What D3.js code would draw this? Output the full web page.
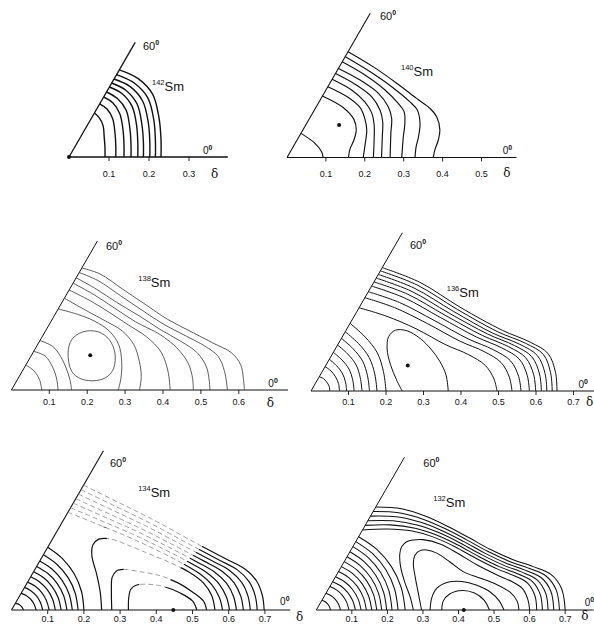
<!DOCTYPE html>
<html>
<head>
<meta charset="utf-8">
<script src="https://cdn.jsdelivr.net/npm/d3@7"></script>
<style>
  body { margin: 0; background: #fff; }
  svg { display: block; }
  text { font-family: 'Liberation Sans', Arial, sans-serif; fill: #111; }
  .delta { font-family: 'DejaVu Serif', 'Liberation Serif', serif; }
</style>
</head>
<body>
<svg id="chart" width="594" height="625"></svg>
<script>
// every contour point is (delta cos gamma, delta sin gamma)
var sm142Contours = [
  [[0.0635, 0.110], [0.075, 0.099], [0.085, 0.079], [0.088, 0.050], [0.090, 0.022], [0.090, 0]],
  [[0.0767, 0.133], [0.095, 0.120], [0.109, 0.096], [0.115, 0.060], [0.117, 0.027], [0.117, 0]],
  [[0.0866, 0.150], [0.110, 0.135], [0.127, 0.108], [0.135, 0.068], [0.1375, 0.030], [0.1375, 0]],
  [[0.0938, 0.1625], [0.121, 0.146], [0.143, 0.117], [0.152, 0.073], [0.155, 0.033], [0.155, 0]],
  [[0.101, 0.175], [0.133, 0.158], [0.158, 0.126], [0.169, 0.079], [0.172, 0.035], [0.172, 0]],
  [[0.1067, 0.185], [0.142, 0.167], [0.170, 0.133], [0.182, 0.083], [0.186, 0.037], [0.186, 0]],
  [[0.1125, 0.195], [0.153, 0.176], [0.184, 0.140], [0.198, 0.088], [0.202, 0.039], [0.202, 0]],
  [[0.1189, 0.206], [0.163, 0.185], [0.197, 0.148], [0.212, 0.093], [0.216, 0.041], [0.216, 0]],
  [[0.1258, 0.218], [0.173, 0.196], [0.209, 0.157], [0.225, 0.098], [0.230, 0.044], [0.230, 0]]
];
var sm142Minimum = [0, 0];
var sm142Ticks = [0.1, 0.2, 0.3];

var sm140Contours = [
  [[0.036, 0.062], [0.072, 0.0365], [0.089, 0.015], [0.093, 0]],
  [[0.091, 0.158], [0.145, 0.128], [0.172, 0.098], [0.178, 0.071], [0.172, 0.045], [0.162, 0.022], [0.158, 0]],
  [[0.105, 0.182], [0.155, 0.156], [0.188, 0.128], [0.200, 0.100], [0.205, 0.070], [0.201, 0.035], [0.196, 0]],
  [[0.116, 0.201], [0.166, 0.1735], [0.200, 0.143], [0.218, 0.114], [0.224, 0.0835], [0.224, 0.045], [0.222, 0]],
  [[0.125, 0.216], [0.179, 0.186], [0.218, 0.156], [0.239, 0.122], [0.246, 0.092], [0.245, 0.053], [0.243, 0]],
  [[0.132, 0.229], [0.188, 0.199], [0.235, 0.165], [0.260, 0.131], [0.269, 0.101], [0.267, 0.062], [0.265, 0]],
  [[0.142, 0.246], [0.2005, 0.212], [0.252, 0.1735], [0.286, 0.139], [0.301, 0.118], [0.303, 0.088], [0.299, 0.053], [0.295, 0]],
  [[0.150, 0.259], [0.213, 0.221], [0.269, 0.182], [0.316, 0.143], [0.335, 0.122], [0.342, 0.088], [0.338, 0.053], [0.332, 0.028], [0.329, 0]],
  [[0.157, 0.272], [0.222, 0.233], [0.282, 0.191], [0.333, 0.152], [0.368, 0.126], [0.385, 0.104], [0.393, 0.071], [0.389, 0.045], [0.380, 0.019], [0.376, 0]]
];
var sm140Minimum = [0.134, 0.0835];
var sm140Ticks = [0.1, 0.2, 0.3, 0.4, 0.5];

var sm138Contours = [
  [[0.038, 0.066], [0.060, 0.050], [0.075, 0.025], [0.080, 0]],
  [[0.059, 0.102], [0.090, 0.0888], [0.110, 0.0577], [0.120, 0.0266], [0.123, 0]],
  [[0.0753, 0.1305], [0.109, 0.115], [0.1297, 0.0888], [0.1446, 0.0577], [0.1545, 0.0266], [0.159, 0]],
  [[0.1235, 0.214], [0.174, 0.1998], [0.2188, 0.182], [0.2584, 0.1554], [0.283, 0.12], [0.291, 0.0755], [0.289, 0.0311], [0.282, 0]],
  [[0.140, 0.242], [0.199, 0.2087], [0.2485, 0.182], [0.293, 0.1554], [0.3228, 0.12], [0.3376, 0.0755], [0.3426, 0.0355], [0.338, 0]],
  [[0.152, 0.264], [0.209, 0.235], [0.258, 0.205], [0.308, 0.172], [0.357, 0.14], [0.395, 0.1], [0.413, 0.05], [0.419, 0]],
  [[0.163, 0.282], [0.2188, 0.2509], [0.2733, 0.2154], [0.3277, 0.1799], [0.392, 0.1465], [0.4366, 0.111], [0.4663, 0.071], [0.478, 0.0311], [0.48, 0]],
  [[0.171, 0.296], [0.2238, 0.2664], [0.278, 0.231], [0.3376, 0.1954], [0.392, 0.16], [0.4465, 0.1288], [0.491, 0.0977], [0.5158, 0.0577], [0.524, 0]],
  [[0.179, 0.310], [0.2287, 0.2886], [0.288, 0.2487], [0.3475, 0.2087], [0.402, 0.1732], [0.4614, 0.1421], [0.511, 0.1155], [0.5455, 0.0888], [0.5624, 0.0488], [0.57, 0]],
  [[0.186, 0.322], [0.2337, 0.3063], [0.293, 0.2664], [0.3525, 0.2265], [0.412, 0.1865], [0.4713, 0.1554], [0.531, 0.1243], [0.5812, 0.0977], [0.605, 0.0666], [0.612, 0.0311], [0.615, 0]]
];
var sm138Loops = [
  [[0.1495, 0.0977], [0.1594, 0.1332], [0.189, 0.1536], [0.2287, 0.1536], [0.258, 0.1332], [0.273, 0.0977],
   [0.270, 0.0577], [0.2535, 0.0355], [0.2238, 0.0249], [0.184, 0.0293], [0.1594, 0.0488]]
];
var sm138Minimum = [0.208, 0.092];
var sm138Ticks = [0.1, 0.2, 0.3, 0.4, 0.5, 0.6];

var sm136Contours = [
  [[0.022, 0.0381], [0.0332, 0.0332], [0.0416, 0.024], [0.0483, 0.013], [0.05, 0]],
  [[0.0375, 0.065], [0.0534, 0.0534], [0.0654, 0.0378], [0.0734, 0.0197], [0.076, 0]],
  [[0.0488, 0.0845], [0.0679, 0.0679], [0.0831, 0.048], [0.0918, 0.0246], [0.095, 0]],
  [[0.0595, 0.103], [0.0827, 0.0827], [0.1013, 0.0585], [0.1111, 0.0298], [0.115, 0]],
  [[0.0709, 0.1227], [0.0983, 0.0983], [0.1204, 0.0695], [0.1314, 0.0352], [0.136, 0]],
  [[0.0811, 0.1405], [0.1124, 0.1124], [0.1377, 0.0795], [0.1507, 0.0404], [0.156, 0]],
  [[0.0912, 0.158], [0.1266, 0.1266], [0.155, 0.0895], [0.17, 0.0456], [0.176, 0]],
  [[0.1042, 0.1805], [0.1442, 0.1442], [0.1767, 0.102], [0.1932, 0.0518], [0.20, 0]],
  [[0.243, 0], [0.228, 0.03], [0.212, 0.07], [0.203, 0.112], [0.207, 0.145], [0.225, 0.162], [0.2552, 0.1608],
   [0.2907, 0.1405], [0.3219, 0.1093], [0.344, 0.0781], [0.36, 0.0427], [0.366, 0]],
  [[0.128, 0.222], [0.20, 0.200], [0.28, 0.166], [0.36, 0.123], [0.42, 0.097], [0.465, 0.068], [0.488, 0.032], [0.496, 0]],
  [[0.1435, 0.2488], [0.2225, 0.2225], [0.31, 0.180], [0.3975, 0.1328], [0.4613, 0.1053], [0.5068, 0.076], [0.529, 0.0365], [0.536, 0]],
  [[0.1528, 0.2648], [0.236, 0.236], [0.328, 0.1884], [0.42, 0.1386], [0.486, 0.1102], [0.5318, 0.0808], [0.5536, 0.0392], [0.56, 0]],
  [[0.1615, 0.2798], [0.2486, 0.2486], [0.3448, 0.1962], [0.441, 0.1441], [0.5091, 0.1148], [0.5552, 0.0853], [0.5766, 0.0417], [0.5824, 0]],
  [[0.168, 0.291], [0.258, 0.258], [0.3574, 0.2021], [0.4568, 0.1482], [0.5264, 0.1183], [0.5727, 0.0886], [0.5938, 0.0436], [0.5992, 0]],
  [[0.1739, 0.3012], [0.2666, 0.2666], [0.3688, 0.2074], [0.471, 0.1519], [0.5421, 0.1214], [0.5886, 0.0917], [0.6094, 0.0453], [0.6144, 0]],
  [[0.1795, 0.3108], [0.2747, 0.2747], [0.3796, 0.2125], [0.4845, 0.1544], [0.557, 0.1244], [0.6036, 0.0946], [0.6241, 0.0469], [0.6288, 0]],
  [[0.185, 0.3204], [0.2828, 0.2828], [0.3904, 0.2175], [0.498, 0.1579], [0.5718, 0.1274], [0.6196, 0.0974], [0.6389, 0.0486], [0.6432, 0]],
  [[0.190, 0.329], [0.29, 0.290], [0.40, 0.222], [0.51, 0.162], [0.585, 0.130], [0.632, 0.100], [0.652, 0.05], [0.656, 0]]
];
var sm136Minimum = [0.258, 0.068];
var sm136Ticks = [0.1, 0.2, 0.3, 0.4, 0.5, 0.6, 0.7];

var sm134Contours = [
  [[0.0105, 0.0182], [0.017, 0.017], [0.0234, 0.0135], [0.029, 0.0078], [0.033, 0]],
  [[0.0265, 0.0459], [0.0402, 0.0402], [0.0524, 0.0303], [0.0621, 0.0166], [0.068, 0]],
  [[0.036, 0.0624], [0.0534, 0.0534], [0.0684, 0.0395], [0.0797, 0.0214], [0.086, 0]],
  [[0.0445, 0.0771], [0.0656, 0.0656], [0.0836, 0.0483], [0.0966, 0.0259], [0.104, 0]],
  [[0.053, 0.0918], [0.0776, 0.0776], [0.0983, 0.0568], [0.1133, 0.0304], [0.121, 0]],
  [[0.061, 0.1057], [0.0889, 0.0889], [0.1121, 0.0648], [0.1288, 0.0345], [0.137, 0]],
  [[0.0695, 0.1204], [0.1007, 0.1007], [0.1264, 0.073], [0.1444, 0.0387], [0.153, 0]],
  [[0.078, 0.1351], [0.1124, 0.1124], [0.1403, 0.081], [0.1594, 0.0427], [0.168, 0]],
  [[0.088, 0.1524], [0.1258, 0.1258], [0.1559, 0.09], [0.1758, 0.0471], [0.184, 0]],
  [[0.1, 0.1732], [0.1414, 0.1414], [0.1732, 0.1], [0.1932, 0.0518], [0.2, 0]],
  [[0.249, 0], [0.245, 0.05], [0.235, 0.1], [0.222, 0.15], [0.225, 0.18], [0.24, 0.195], [0.27, 0.197], [0.32, 0.18],
   [0.38, 0.155], [0.44, 0.13], [0.49, 0.105], [0.53, 0.075], [0.553, 0.04], [0.562, 0]],
  [[0.277, 0], [0.276, 0.05], [0.278, 0.09], [0.29, 0.108], [0.31, 0.112], [0.36, 0.105], [0.41, 0.095], [0.46, 0.075],
   [0.50, 0.05], [0.53, 0.025], [0.539, 0]],
  [[0.323, 0], [0.324, 0.035], [0.33, 0.058], [0.346, 0.069], [0.38, 0.071], [0.42, 0.065], [0.466, 0.047], [0.50, 0.025], [0.512, 0]],
  [[0.156, 0.27], [0.24, 0.236], [0.32, 0.203], [0.40, 0.166], [0.47, 0.13], [0.52, 0.1], [0.553, 0.07], [0.574, 0.035], [0.583, 0]],
  [[0.1632, 0.2825], [0.25, 0.2458], [0.3333, 0.21], [0.4167, 0.17], [0.4907, 0.1317], [0.5408, 0.1022], [0.5737, 0.0717], [0.5938, 0.0358], [0.6022, 0]],
  [[0.1703, 0.295], [0.26, 0.2557], [0.3467, 0.217], [0.4333, 0.174], [0.5113, 0.1333], [0.5617, 0.1043], [0.5943, 0.0733], [0.6137, 0.0367], [0.6213, 0]],
  [[0.1775, 0.3075], [0.27, 0.2655], [0.36, 0.224], [0.45, 0.178], [0.532, 0.135], [0.5825, 0.1065], [0.615, 0.075], [0.6335, 0.0375], [0.6405, 0]],
  [[0.1847, 0.32], [0.28, 0.2753], [0.3733, 0.231], [0.4667, 0.182], [0.5527, 0.1367], [0.6033, 0.1087], [0.6357, 0.0767], [0.6533, 0.0383], [0.6597, 0]],
  [[0.1918, 0.3325], [0.29, 0.2852], [0.3867, 0.238], [0.4833, 0.186], [0.5733, 0.1383], [0.6242, 0.1108], [0.6563, 0.0783], [0.6732, 0.0392], [0.6788, 0]],
  [[0.199, 0.345], [0.30, 0.295], [0.40, 0.245], [0.50, 0.19], [0.594, 0.14], [0.645, 0.113], [0.677, 0.08], [0.693, 0.04], [0.698, 0]]
];
var sm134Minimum = [0.447, 0];
var sm134Ticks = [0.1, 0.2, 0.3, 0.4, 0.5, 0.6, 0.7];

var sm132Contours = [
  [[0.016, 0.0277], [0.024, 0.024], [0.0312, 0.018], [0.0367, 0.0098], [0.04, 0]],
  [[0.027, 0.0468], [0.0407, 0.0407], [0.0528, 0.0305], [0.0623, 0.0167], [0.068, 0]],
  [[0.038, 0.0658], [0.0566, 0.0566], [0.0727, 0.042], [0.085, 0.0228], [0.092, 0]],
  [[0.046, 0.0797], [0.0682, 0.0682], [0.0875, 0.0505], [0.1019, 0.0273], [0.11, 0]],
  [[0.054, 0.0935], [0.0795, 0.0795], [0.1013, 0.0585], [0.1174, 0.0314], [0.126, 0]],
  [[0.0625, 0.1083], [0.0912, 0.0912], [0.1152, 0.0665], [0.1323, 0.0355], [0.141, 0]],
  [[0.0705, 0.1221], [0.1024, 0.1024], [0.1286, 0.0743], [0.1471, 0.0394], [0.156, 0]],
  [[0.0785, 0.136], [0.1133, 0.1133], [0.1416, 0.0818], [0.1611, 0.0432], [0.17, 0]],
  [[0.0865, 0.1498], [0.1243, 0.1243], [0.1546, 0.0893], [0.1751, 0.0469], [0.184, 0]],
  [[0.0945, 0.1637], [0.1353, 0.1353], [0.1676, 0.0968], [0.1891, 0.0507], [0.198, 0]],
  [[0.103, 0.1784], [0.1469, 0.1469], [0.1814, 0.1048], [0.2041, 0.0547], [0.213, 0]],
  [[0.111, 0.1923], [0.1584, 0.1584], [0.1957, 0.113], [0.2202, 0.059], [0.23, 0]],
  [[0.119, 0.2061], [0.1704, 0.1704], [0.2113, 0.122], [0.2386, 0.0639], [0.25, 0]],
  [[0.273, 0], [0.264, 0.037], [0.25, 0.075], [0.237, 0.122], [0.235, 0.159], [0.24, 0.178], [0.254, 0.192], [0.273, 0.197],
   [0.30, 0.198], [0.35, 0.185], [0.40, 0.158], [0.45, 0.128], [0.51, 0.098], [0.55, 0.08], [0.58, 0.06], [0.595, 0.03], [0.60, 0]],
  [[0.296, 0], [0.287, 0.047], [0.278, 0.094], [0.273, 0.131], [0.278, 0.155], [0.292, 0.167], [0.31, 0.169], [0.339, 0.16],
   [0.376, 0.135], [0.413, 0.108], [0.46, 0.09], [0.507, 0.072], [0.545, 0.05], [0.565, 0.025], [0.57, 0]],
  [[0.32, 0], [0.325, 0.035], [0.34, 0.062], [0.37, 0.078], [0.41, 0.08], [0.45, 0.07], [0.49, 0.05], [0.515, 0.025], [0.528, 0]],
  [[0.353, 0], [0.357, 0.025], [0.375, 0.045], [0.41, 0.055], [0.445, 0.048], [0.472, 0.028], [0.487, 0]],
  [[0.13, 0.225], [0.2, 0.228], [0.27, 0.222], [0.33, 0.205], [0.39, 0.178], [0.45, 0.145], [0.51, 0.115], [0.56, 0.095], [0.595, 0.075], [0.615, 0.04], [0.62, 0]],
  [[0.1374, 0.238], [0.208, 0.2394], [0.278, 0.2302], [0.338, 0.211], [0.398, 0.183], [0.458, 0.15], [0.518, 0.1206], [0.57, 0.1004], [0.608, 0.08], [0.63, 0.044], [0.636, 0]],
  [[0.1448, 0.251], [0.216, 0.2508], [0.286, 0.2384], [0.346, 0.217], [0.406, 0.188], [0.466, 0.155], [0.526, 0.1262], [0.58, 0.1058], [0.621, 0.085], [0.645, 0.048], [0.652, 0]],
  [[0.1522, 0.264], [0.224, 0.2622], [0.294, 0.2466], [0.354, 0.223], [0.414, 0.193], [0.474, 0.16], [0.534, 0.1318], [0.59, 0.1112], [0.634, 0.09], [0.66, 0.052], [0.668, 0]],
  [[0.1596, 0.277], [0.232, 0.2736], [0.302, 0.2548], [0.362, 0.229], [0.422, 0.198], [0.482, 0.165], [0.542, 0.1374], [0.60, 0.1166], [0.647, 0.095], [0.675, 0.056], [0.684, 0]],
  [[0.167, 0.29], [0.24, 0.285], [0.31, 0.263], [0.37, 0.235], [0.43, 0.203], [0.49, 0.17], [0.55, 0.143], [0.61, 0.122], [0.66, 0.1], [0.69, 0.06], [0.70, 0]]
];
var sm132Minimum = [0.415, 0];
var sm132Ticks = [0.1, 0.2, 0.3, 0.4, 0.5, 0.6, 0.7];

var Panel;

Panel = (function() {

  Panel.gamma = Math.PI / 3;
  Panel.tickFormat = d3.format('.1f');

  function Panel(svg, cfg) {
    this.cfg = cfg;
    this.x = d3.scaleLinear().domain([0, 1]).range([0, cfg.scale]);
    this.y = d3.scaleLinear().domain([0, 1]).range([0, -cfg.scale]);
    this.g = svg.append('g')
      .attr('transform', 'translate(' + cfg.origin[0] + ',' + cfg.origin[1] + ')');
    this.buildAxes();
    this.buildContours();
    this.buildLabels();
  }

  Panel.prototype.buildAxes = function() {
    var _this = this, cfg = this.cfg;
    this.g.append('line')
      .attr('x1', 0).attr('y1', 0)
      .attr('x2', this.x(cfg.axisEnd)).attr('y2', 0)
      .style('stroke', '#111').style('stroke-width', cfg.axisWidth);
    this.g.append('line')
      .attr('x1', 0).attr('y1', 0)
      .attr('x2', this.x(cfg.rayEnd * Math.cos(Panel.gamma)))
      .attr('y2', this.y(cfg.rayEnd * Math.sin(Panel.gamma)))
      .style('stroke', '#111').style('stroke-width', cfg.axisWidth);
    var ticks = this.g.selectAll('.tick')
      .data(cfg.ticks)
      .enter()
      .append('g')
      .attr('transform', function(d) { return 'translate(' + _this.x(d) + ',0)'; });
    ticks.append('line')
      .attr('y1', 0).attr('y2', 4)
      .style('stroke', '#111').style('stroke-width', 0.9);
    ticks.append('text')
      .attr('y', cfg.tickDy)
      .attr('text-anchor', 'middle')
      .style('font-size', '9px')
      .text(function(d) { return Panel.tickFormat(d); });
  }

  Panel.prototype.buildContours = function() {
    var _this = this, cfg = this.cfg;
    var line = d3.line()
      .x(function(d) { return _this.x(d[0]); })
      .y(function(d) { return _this.y(d[1]); })
      .curve(d3.curveCatmullRom.alpha(0.5));
    var loop = d3.line()
      .x(function(d) { return _this.x(d[0]); })
      .y(function(d) { return _this.y(d[1]); })
      .curve(d3.curveCatmullRomClosed.alpha(0.5));

    var solid = this.g.append('g');
    if (cfg.fade) {
      // the scan lost most of the ink in this band: draw it broken and grey
      var id = 'fade' + cfg.nucleus;
      var pts = cfg.fade.map(function(d) { return [_this.x(d[0]), _this.y(d[1])].join(','); }).join(' ');
      var defs = this.g.append('defs');
      defs.append('clipPath').attr('id', id + 'clip')
        .append('polygon').attr('points', pts);
      var mask = defs.append('mask').attr('id', id + 'mask')
        .attr('maskUnits', 'userSpaceOnUse')
        .attr('x', -20).attr('y', -300).attr('width', 400).attr('height', 330);
      mask.append('rect').attr('x', -20).attr('y', -300).attr('width', 400).attr('height', 330)
        .style('fill', '#fff');
      mask.append('polygon').attr('points', pts).style('fill', '#000');
      solid.attr('mask', 'url(#' + id + 'mask)');
      this.g.append('g')
        .attr('clip-path', 'url(#' + id + 'clip)')
        .selectAll('path')
        .data(cfg.contours)
        .enter()
        .append('path')
        .attr('d', line)
        .style('fill', 'none')
        .style('stroke', '#8a8a8a')
        .style('stroke-width', 0.8)
        .style('stroke-dasharray', '5,3');
    }
    solid.selectAll('.contour')
      .data(cfg.contours)
      .enter()
      .append('path')
      .attr('d', line)
      .style('fill', 'none')
      .style('stroke', cfg.color)
      .style('stroke-width', cfg.stroke);
    solid.selectAll('.loop')
      .data(cfg.loops)
      .enter()
      .append('path')
      .attr('d', loop)
      .style('fill', 'none')
      .style('stroke', cfg.color)
      .style('stroke-width', cfg.stroke);
    this.g.append('circle')
      .attr('cx', this.x(cfg.minimum[0]))
      .attr('cy', this.y(cfg.minimum[1]))
      .attr('r', 2)
      .style('fill', '#111');
  }

  Panel.prototype.buildLabels = function() {
    var cfg = this.cfg;
    var deg60 = this.g.append('text')
      .attr('x', this.x(cfg.deg60[0])).attr('y', this.y(cfg.deg60[1]))
      .style('font-size', '11px');
    deg60.append('tspan').text('60');
    deg60.append('tspan').attr('dy', -5).style('font-size', '7px').style('font-weight', 'bold').text('0');

    var name = this.g.append('text')
      .attr('x', this.x(cfg.name[0])).attr('y', this.y(cfg.name[1]));
    name.append('tspan').attr('dy', -6).style('font-size', '7.5px').text(cfg.nucleus);
    name.append('tspan').attr('dy', 6).style('font-size', '13px').text('Sm');

    var deg0 = this.g.append('text')
      .attr('x', this.x(cfg.deg0[0])).attr('y', this.y(cfg.deg0[1]))
      .style('font-size', '10px');
    deg0.append('tspan').text('0');
    deg0.append('tspan').attr('dy', -4).style('font-size', '7px').style('font-weight', 'bold').text('0');

    this.g.append('text')
      .attr('class', 'delta')
      .attr('x', this.x(cfg.delta[0])).attr('y', this.y(cfg.delta[1]))
      .style('font-size', '12px')
      .text('\u03b4');
  }

  return Panel;

})();

var panelConfigs = [
  { nucleus: '142', contours: sm142Contours, loops: [], minimum: sm142Minimum, ticks: sm142Ticks,
    origin: [69, 157], scale: 400, axisEnd: 0.397, rayEnd: 0.331, stroke: 1.4, axisWidth: 1.3, color: '#111',
    deg60: [0.185, 0.2675], name: [0.2075, 0.165], deg0: [0.335, 0.0075], delta: [0.355, -0.0525], tickDy: 20 },
  { nucleus: '140', contours: sm140Contours, loops: [], minimum: sm140Minimum, ticks: sm140Ticks,
    origin: [287, 157.5], scale: 389, axisEnd: 0.59, rayEnd: 0.428, stroke: 1.15, axisWidth: 1.1, color: '#111',
    deg60: [0.239, 0.353], name: [0.293, 0.2095], deg0: [0.5545, 0.01], delta: [0.556, -0.049], tickDy: 19 },
  { nucleus: '138', contours: sm138Contours, loops: sm138Loops, minimum: sm138Minimum, ticks: sm138Ticks,
    origin: [11.4, 390], scale: 379, axisEnd: 0.73, rayEnd: 0.454, stroke: 0.8, axisWidth: 1, color: '#333',
    deg60: [0.2496, 0.369], name: [0.335, 0.2726], deg0: [0.678, 0.0087], delta: [0.674, -0.044], tickDy: 15 },
  { nucleus: '136', contours: sm136Contours, loops: [], minimum: sm136Minimum, ticks: sm136Ticks,
    origin: [311, 391], scale: 375, axisEnd: 0.76, rayEnd: 0.487, stroke: 1, axisWidth: 1, color: '#111',
    deg60: [0.264, 0.38], name: [0.362, 0.2515], deg0: [0.713, 0.007], delta: [0.733, -0.04], tickDy: 14 },
  { nucleus: '134', contours: sm134Contours, loops: [], minimum: sm134Minimum, ticks: sm134Ticks,
    origin: [11.5, 610], scale: 362, axisEnd: 0.77, rayEnd: 0.508, stroke: 1.2, axisWidth: 1.1, color: '#111',
    deg60: [0.272, 0.396], name: [0.35, 0.313], deg0: [0.742, 0.014], delta: [0.786, -0.03], tickDy: 12,
    fade: [[0.10, 0.23], [0.26, 0.23], [0.27, 0.14], [0.31, 0.14], [0.31, 0.09], [0.35, 0.09], [0.355, 0.055],
           [0.42, 0.055], [0.45, 0.10], [0.50, 0.15], [0.56, 0.21], [0.56, 0.45], [0.10, 0.45]] },
  { nucleus: '132', contours: sm132Contours, loops: [], minimum: sm132Minimum, ticks: sm132Ticks,
    origin: [316.3, 610], scale: 355.5, axisEnd: 0.78, rayEnd: 0.496, stroke: 1.05, axisWidth: 1, color: '#111',
    deg60: [0.301, 0.402], name: [0.329, 0.29], deg0: [0.755, 0.012], delta: [0.745, -0.028], tickDy: 12 }
];

var svg = d3.select('#chart');
panelConfigs.forEach(function(cfg) { new Panel(svg, cfg); });
</script>
</body>
</html>
